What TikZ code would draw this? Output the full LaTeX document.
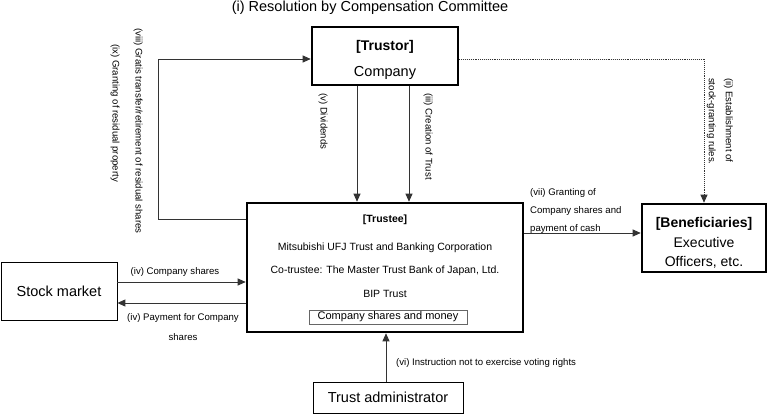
\documentclass[tikz,border=0pt]{standalone}
\usepackage{fontspec}
\setmainfont{Liberation Sans}
\usetikzlibrary{arrows.meta, calc, positioning}

\begin{document}
\begin{tikzpicture}[x=1pt, y=-1pt,
    party/.style={draw, line width=2.6pt, align=center, inner sep=0pt},
    outside/.style={draw, line width=0.8pt, align=center, inner sep=0pt, font=\fontsize{14.5}{17}\selectfont},
    flow/.style={draw=black!80, line width=0.9pt, -{Triangle[length=8pt, width=7pt]}},
    small/.style={font=\fontsize{9.6}{19}\selectfont, inner sep=0pt},
    body/.style={font=\fontsize{10.5}{12}\selectfont, inner sep=0pt}]

    \useasboundingbox (0,0) rectangle (772,414);

    % Title
    \node[font=\fontsize{14.5}{17}\selectfont] (title) at (370,8) {(i) Resolution by Compensation Committee};

    % Trustor
    \node[party, minimum width=146pt, minimum height=58pt] (trustor) at (385,56) {};
    \node[font=\fontsize{14}{17}\selectfont\bfseries] (trustor-role) at (385,47) {[Trustor]};
    \node[font=\fontsize{14.5}{17}\selectfont] (trustor-name) at (385,73) {Company};

    % Trustee
    \node[party, minimum width=276pt, minimum height=129pt] (trustee) at (385,267.5) {};
    \node[body, font=\fontsize{10.5}{12}\selectfont\bfseries] (tee-role) at (385,220) {[Trustee]};
    \node[body] (tee-bank) at (385,248) {Mitsubishi UFJ Trust and Banking Corporation};
    \node[body] (tee-co) at (385,271) {Co-trustee: The Master Trust Bank of Japan, Ltd.};
    \node[body] (tee-bip) at (385,294) {BIP Trust};
    \node[draw=black!60, line width=0.8pt, minimum width=158pt, minimum height=14pt, inner sep=0pt,
          font=\fontsize{11}{13}\selectfont] (tee-assets) at (388,317) {Company shares and money};

    % Beneficiaries
    \node[party, minimum width=124pt, minimum height=68pt] (benef) at (704,238) {};
    \node[font=\fontsize{14}{19.5}\selectfont, align=center, inner sep=0pt] (benef-text) at (704,243)
        {\textbf{[Beneficiaries]}\\Executive\\Officers, etc.};

    % Stock market and trust administrator
    \node[outside, minimum width=116pt, minimum height=58pt] (market) at (59,291) {Stock market};
    \node[outside, minimum width=150pt, minimum height=31pt] (admin) at (388,397.5) {Trust administrator};

    % Trustor to Trustee
    \draw[flow] ([xshift=-28pt]trustor.south) -- ([xshift=-28pt]trustee.north);
    \draw[flow] ([xshift=24pt]trustor.south) -- ([xshift=24pt]trustee.north);
    \node[small, rotate=-90, anchor=west] (lbl-div) at (323,93) {(v) Dividends};
    \node[small, rotate=-90, anchor=west] (lbl-trust) at (428,93) {(iii) Creation of Trust};

    % Trustee to Beneficiaries
    \draw[flow] ([yshift=34.5pt]trustee.east) -- ([yshift=34.5pt]trustee.east -| benef.west);
    \node[small, font=\fontsize{9.6}{18}\selectfont, align=left, anchor=south west] (lbl-grant) at (530,233.5)
        {(vii) Granting of\\Company shares and\\payment of cash};

    % Stock market
    \draw[flow] ([yshift=9pt]market.east) -- ([yshift=9pt]market.east -| trustee.west);
    \draw[flow] ([yshift=-12pt]market.east -| trustee.west) -- ([yshift=-12pt]market.east);
    \node[small] (lbl-shares) at (175,272) {(iv) Company shares};
    \node[small, font=\fontsize{9.6}{20}\selectfont, align=center] (lbl-pay) at (183,327) {(iv) Payment for Company\\shares};

    % Trust administrator
    \draw[flow] ([xshift=-2pt]admin.north) -- ([xshift=-2pt]admin.north |- trustee.south);
    \node[small, anchor=west] (lbl-vote) at (396,363) {(vi) Instruction not to exercise voting rights};

    % Residual shares back to Trustor
    \coordinate (loop) at (158,0);
    \draw[flow] ([yshift=48.5pt]trustee.west) -- ([yshift=48.5pt]trustee.west -| loop)
        -- ([yshift=-3pt]trustor.west -| loop) -- ([yshift=-3pt]trustor.west);
    \node[small, rotate=-90, anchor=west] (lbl-retire) at (138,28) {(viii) Gratis transfer/retirement of residual shares};
    \node[small, rotate=-90, anchor=west] (lbl-resid) at (115,44) {(ix) Granting of residual property};

    % Stock-granting rules
    \draw[flow, densely dotted] ([yshift=-3pt]trustor.east) -| (benef.north);
    \node[small, font=\fontsize{9.6}{17}\selectfont, rotate=-90, anchor=north west, align=left] (lbl-rules) at (733,78)
        {(ii) Establishment of\\stock-granting rules.};
\end{tikzpicture}
\end{document}
